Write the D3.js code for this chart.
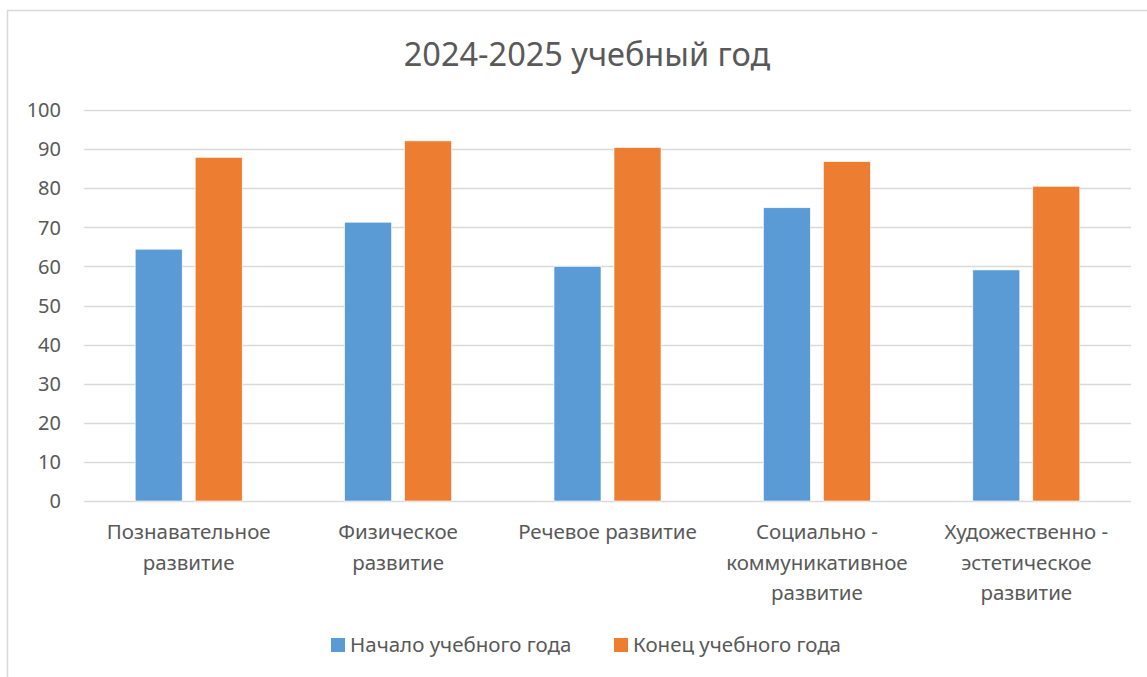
<!DOCTYPE html>
<html>
<head>
<meta charset="utf-8">
<script src="https://cdn.jsdelivr.net/npm/d3@7"></script>
<style>
  html, body { margin: 0; padding: 0; background: #fff; }
  svg { display: block; font-family: "Noto Sans", "Open Sans", sans-serif; }
</style>
</head>
<body>
<svg id="chart" width="1147" height="677"></svg>
<script>
// Столбчатая диаграмма: начало / конец учебного года по областям развития.
const categories = [
  ['Познавательное', 'развитие'],
  ['Физическое', 'развитие'],
  ['Речевое развитие'],
  ['Социально -', 'коммуникативное', 'развитие'],
  ['Художественно -', 'эстетическое', 'развитие'],
];
const startValues = [64.4, 71.3, 60.0, 75.0, 59.1];
const endValues   = [87.9, 92.1, 90.4, 86.8, 80.5];
const seriesNames = ['Начало учебного года', 'Конец учебного года'];
const seriesColors = ['#5b9bd5', '#ed7d31'];
const yTicks = [0, 10, 20, 30, 40, 50, 60, 70, 80, 90, 100];
const title = '2024-2025 учебный год';

const W = 1147, H = 677;
const plot = { left: 84, right: 1131, top: 110, bottom: 501 };
const textColor = '#595959';

const svg = d3.select('#chart');

// рамка области диаграммы (уходит за правый и нижний край)
svg.append('rect')
  .attr('x', 7.5).attr('y', 10.5)
  .attr('width', W + 20).attr('height', H + 20)
  .attr('fill', '#fff').attr('stroke', '#d9d9d9').attr('stroke-width', 1.5);

svg.append('text')
  .attr('x', 587).attr('y', 66)
  .attr('text-anchor', 'middle')
  .attr('font-size', 32.5).attr('fill', textColor)
  .text(title);

const x0 = d3.scaleBand()
  .domain(d3.range(categories.length))
  .range([plot.left, plot.right]);

const y = d3.scaleLinear().domain([0, 100]).range([plot.bottom, plot.top]);

// сетка
svg.append('g').selectAll('line')
  .data(yTicks).enter().append('line')
    .attr('x1', plot.left).attr('x2', plot.right)
    .attr('y1', d => Math.round(y(d)) + 0.5).attr('y2', d => Math.round(y(d)) + 0.5)
    .attr('stroke', '#d9d9d9').attr('stroke-width', 1.5);

// подписи оси Y
svg.append('g').selectAll('text')
  .data(yTicks).enter().append('text')
    .attr('x', 61).attr('y', d => y(d))
    .attr('dy', '0.36em')
    .attr('text-anchor', 'end')
    .attr('font-size', 20).attr('fill', textColor)
    .text(d => d);

// столбцы
const barW = 47, gap = 13;
const series = [startValues, endValues];
series.forEach((vals, si) => {
  svg.append('g').selectAll('rect')
    .data(vals).enter().append('rect')
      .attr('x', (d, i) => {
        const c = x0(i) + x0.bandwidth() / 2;
        return si === 0 ? c - gap / 2 - barW : c + gap / 2;
      })
      .attr('y', d => y(d))
      .attr('width', barW)
      .attr('height', d => y(0) - y(d))
      .attr('fill', seriesColors[si])
      .attr('stroke', '#fff').attr('stroke-width', 0.6);
});

// подписи категорий
const cat = svg.append('g').selectAll('text')
  .data(categories).enter().append('text')
    .attr('x', (d, i) => x0(i) + x0.bandwidth() / 2)
    .attr('y', 539)
    .attr('text-anchor', 'middle')
    .attr('font-size', 20.5).attr('fill', textColor);
cat.selectAll('tspan')
  .data(d => d).enter().append('tspan')
    .attr('x', function () { return d3.select(this.parentNode).attr('x'); })
    .attr('dy', (d, i) => i === 0 ? 0 : 30.5)
    .text(d => d);

// легенда
const legendX = [331, 614];
seriesNames.forEach((name, i) => {
  svg.append('rect')
    .attr('x', legendX[i]).attr('y', 638)
    .attr('width', 14).attr('height', 14)
    .attr('fill', seriesColors[i]);
  svg.append('text')
    .attr('x', legendX[i] + 19).attr('y', 652)
    .attr('font-size', 20.5).attr('fill', textColor)
    .text(name);
});
</script>
</body>
</html>
